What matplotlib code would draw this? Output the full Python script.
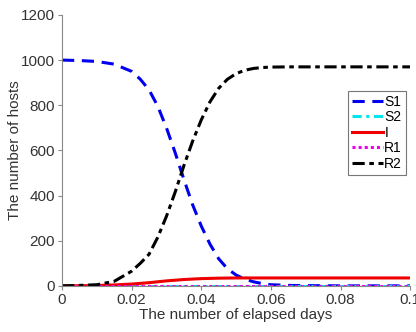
import matplotlib
matplotlib.use("Agg")
import matplotlib.pyplot as plt
import numpy as np

plt.rcParams['font.family'] = ['Liberation Sans', 'DejaVu Sans']

t = [0, 0.005, 0.01, 0.015, 0.02, 0.0225, 0.025, 0.0275, 0.03, 0.0325, 0.035, 0.0375,
     0.04, 0.0425, 0.045, 0.0475, 0.05, 0.0525, 0.055, 0.0575, 0.06, 0.065, 0.07, 0.08, 0.09, 0.1]
S1 = [1000, 998, 994, 982, 950, 915, 868, 796, 700, 590, 472, 360,
      265, 185, 120, 76, 48, 30, 18, 10, 5, 2, 1, 0, 0, 0]
S2 = [0] * len(t)
I = [0, 0.5, 1.5, 4, 8, 11, 14, 18, 22, 25, 28, 30,
     32, 33, 34, 34.5, 35, 35, 35, 35, 35, 35, 35, 35, 35, 35]
R1 = [0] * len(t)
R2 = [0, 2, 5, 20, 65, 100, 140, 215, 308, 415, 532, 640,
      735, 815, 875, 915, 940, 955, 963, 967, 969, 970, 970, 970, 970, 970]

fig = plt.figure(figsize=(4.16, 3.32), dpi=100)
ax = fig.add_axes([0.149, 0.139, 0.837, 0.816])

ax.plot(t, S1, color='#0000ee', linestyle=(0, (4, 2.5)), linewidth=2.2, label='S1')
ax.plot(t, S2, color='#00e5ee', linestyle=(0, (3, 1.5, 1, 1.5)), linewidth=2.2, label='S2')
ax.plot(t, I, color='#ee0000', linestyle='-', linewidth=2.2, label='I')
ax.plot(t, R1, color='#ee00ee', linestyle=(0, (1, 1)), linewidth=2.2, label='R1')
ax.plot(t, R2, color='black', linestyle=(0, (4, 1.5, 1.5, 1.5)), linewidth=2.2, label='R2')

ax.set_xlim(0, 0.1)
ax.set_ylim(0, 1200)
ax.set_xticks([0, 0.02, 0.04, 0.06, 0.08, 0.1])
ax.set_xticklabels(['0', '0.02', '0.04', '0.06', '0.08', '0.1'])
ax.set_yticks([0, 200, 400, 600, 800, 1000, 1200])
for s in ['top', 'right']:
    ax.spines[s].set_visible(False)
for s in ['left', 'bottom']:
    ax.spines[s].set_color('#888888')
ax.tick_params(colors='#333333', labelsize=11, length=3, width=0.8, pad=2)
ax.tick_params(axis='both', color='#888888')
ax.set_xlabel('The number of elapsed days', fontsize=11, color='#333333', labelpad=1)
ax.set_ylabel('The number of hosts', fontsize=11, color='#333333')
ax.yaxis.set_label_coords(-0.115, 0.5)

leg = ax.legend(loc='upper left', bbox_to_anchor=(0.822, 0.72), fontsize=10,
                frameon=True, fancybox=False, handlelength=2.2, handletextpad=0.1,
                borderpad=0.3, labelspacing=0.1, borderaxespad=0)
leg.get_frame().set_edgecolor('#555555')
leg.get_frame().set_linewidth(0.8)

fig.savefig('out.png', dpi=100)
